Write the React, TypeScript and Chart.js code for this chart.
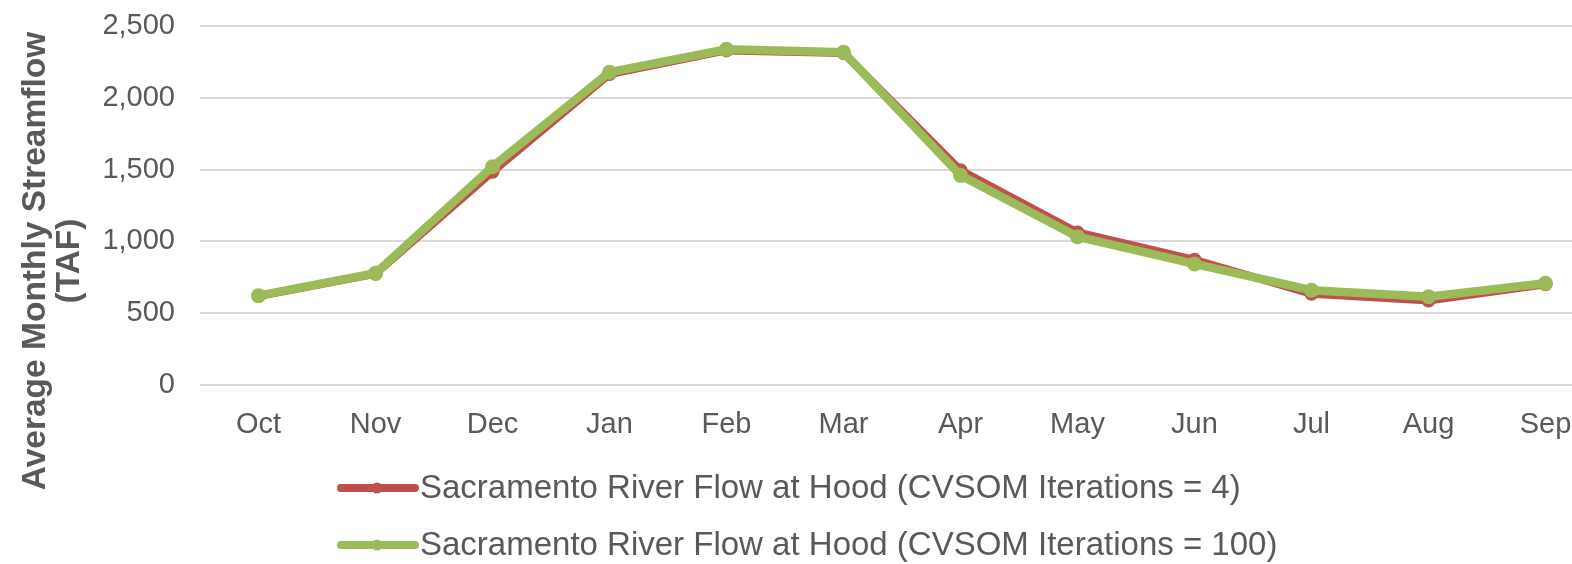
import React, { useEffect, useRef } from "react";
import { Chart, registerables } from "chart.js";

Chart.register(...registerables);

const months = ["Oct", "Nov", "Dec", "Jan", "Feb", "Mar", "Apr", "May", "Jun", "Jul", "Aug", "Sep"];
const flowIter4 = [620, 775, 1485, 2165, 2330, 2312, 1495, 1062, 872, 635, 588, 702];
const flowIter100 = [622, 778, 1520, 2178, 2338, 2317, 1460, 1033, 843, 660, 615, 708];
const seriesLabels = [
  "Sacramento River Flow at Hood (CVSOM Iterations = 4)",
  "Sacramento River Flow at Hood (CVSOM Iterations = 100)",
];
const yTitleLines = ["Average Monthly Streamflow", "(TAF)"];
const yTicks = [0, 500, 1000, 1500, 2000, 2500];

const RED = "#C0504D";
const GREEN = "#9BBB59";
const TEXT = "#595959";
const FONT = "'Liberation Sans', Arial, sans-serif";

const decorPlugin = {
  id: "decor",
  afterDraw(chart: any) {
    const ctx = chart.ctx;
    ctx.save();
    // y-axis title
    ctx.fillStyle = TEXT;
    ctx.font = `bold 33.5px ${FONT}`;
    ctx.textAlign = "center";
    ctx.textBaseline = "middle";
    ctx.translate(36, 261);
    ctx.rotate(-Math.PI / 2);
    ctx.fillText(yTitleLines[0], 0, 0);
    ctx.fillText(yTitleLines[1], 0, 34);
    ctx.restore();

    // legend
    const ds = chart.data.datasets;
    const rowsY = [488, 545];
    ds.forEach((d: any, i: number) => {
      const y = rowsY[i];
      ctx.save();
      ctx.strokeStyle = d.borderColor;
      ctx.lineWidth = 8;
      ctx.lineCap = "round";
      ctx.beginPath();
      ctx.moveTo(341, y);
      ctx.lineTo(415, y);
      ctx.stroke();
      ctx.fillStyle = d.borderColor;
      ctx.beginPath();
      ctx.arc(377, y, 5.5, 0, Math.PI * 2);
      ctx.fill();
      ctx.fillStyle = TEXT;
      ctx.font = `33px ${FONT}`;
      ctx.textAlign = "left";
      ctx.textBaseline = "middle";
      ctx.fillText(d.label, 420, y + 1);
      ctx.restore();
    });
  },
};

export default function App() {
  const ref = useRef<HTMLCanvasElement | null>(null);
  useEffect(() => {
    if (!ref.current) return;
    const chart = new Chart(ref.current, {
      type: "line",
      data: {
        labels: months,
        datasets: [
          {
            label: seriesLabels[0],
            data: flowIter4,
            borderColor: RED,
            backgroundColor: RED,
            borderWidth: 8,
            pointRadius: 7,
            pointBorderWidth: 0,
            pointBackgroundColor: RED,
            tension: 0,
            order: 2,
          },
          {
            label: seriesLabels[1],
            data: flowIter100,
            borderColor: GREEN,
            backgroundColor: GREEN,
            borderWidth: 8.5,
            pointRadius: 7.5,
            pointBorderWidth: 0,
            pointBackgroundColor: GREEN,
            tension: 0,
            order: 1,
          },
        ],
      },
      options: {
        animation: false,
        responsive: false,
        layout: { padding: { left: 0, top: 26, right: 16, bottom: 109 } },
        plugins: {
          legend: { display: false },
          tooltip: { enabled: false },
        },
        scales: {
          x: {
            offset: true,
            grid: { display: false },
            border: { display: false },
            ticks: {
              color: TEXT,
              font: { family: FONT, size: 29 },
              padding: 15,
              maxRotation: 0,
              autoSkip: false,
            },
            afterFit: (axis: any) => {
              axis.height = 70;
              axis.paddingLeft = 0;
              axis.paddingRight = 0;
            },
          },
          y: {
            min: 0,
            max: 2500,
            afterBuildTicks: (axis: any) => {
              axis.ticks = yTicks.map((v) => ({ value: v }));
            },
            grid: { color: "#D9D9D9", lineWidth: 2, drawTicks: false },
            border: { display: false },
            ticks: {
              color: TEXT,
              font: { family: FONT, size: 29 },
              padding: 25,
              callback: (v: any) => Number(v).toLocaleString("en-US"),
            },
            afterFit: (axis: any) => {
              axis.width = 200;
              axis.paddingTop = 0;
              axis.paddingBottom = 0;
            },
          },
        },
      },
      plugins: [decorPlugin],
    });
    return () => chart.destroy();
  }, []);
  return (
    <div
      style={{
        position: "fixed",
        left: 0,
        top: 0,
        width: 1572,
        height: 564,
        overflow: "hidden",
        background: "#fff",
      }}
    >
      <canvas ref={ref} width={1620} height={564} style={{ width: 1620, height: 564, display: "block" }} />
    </div>
  );
}
